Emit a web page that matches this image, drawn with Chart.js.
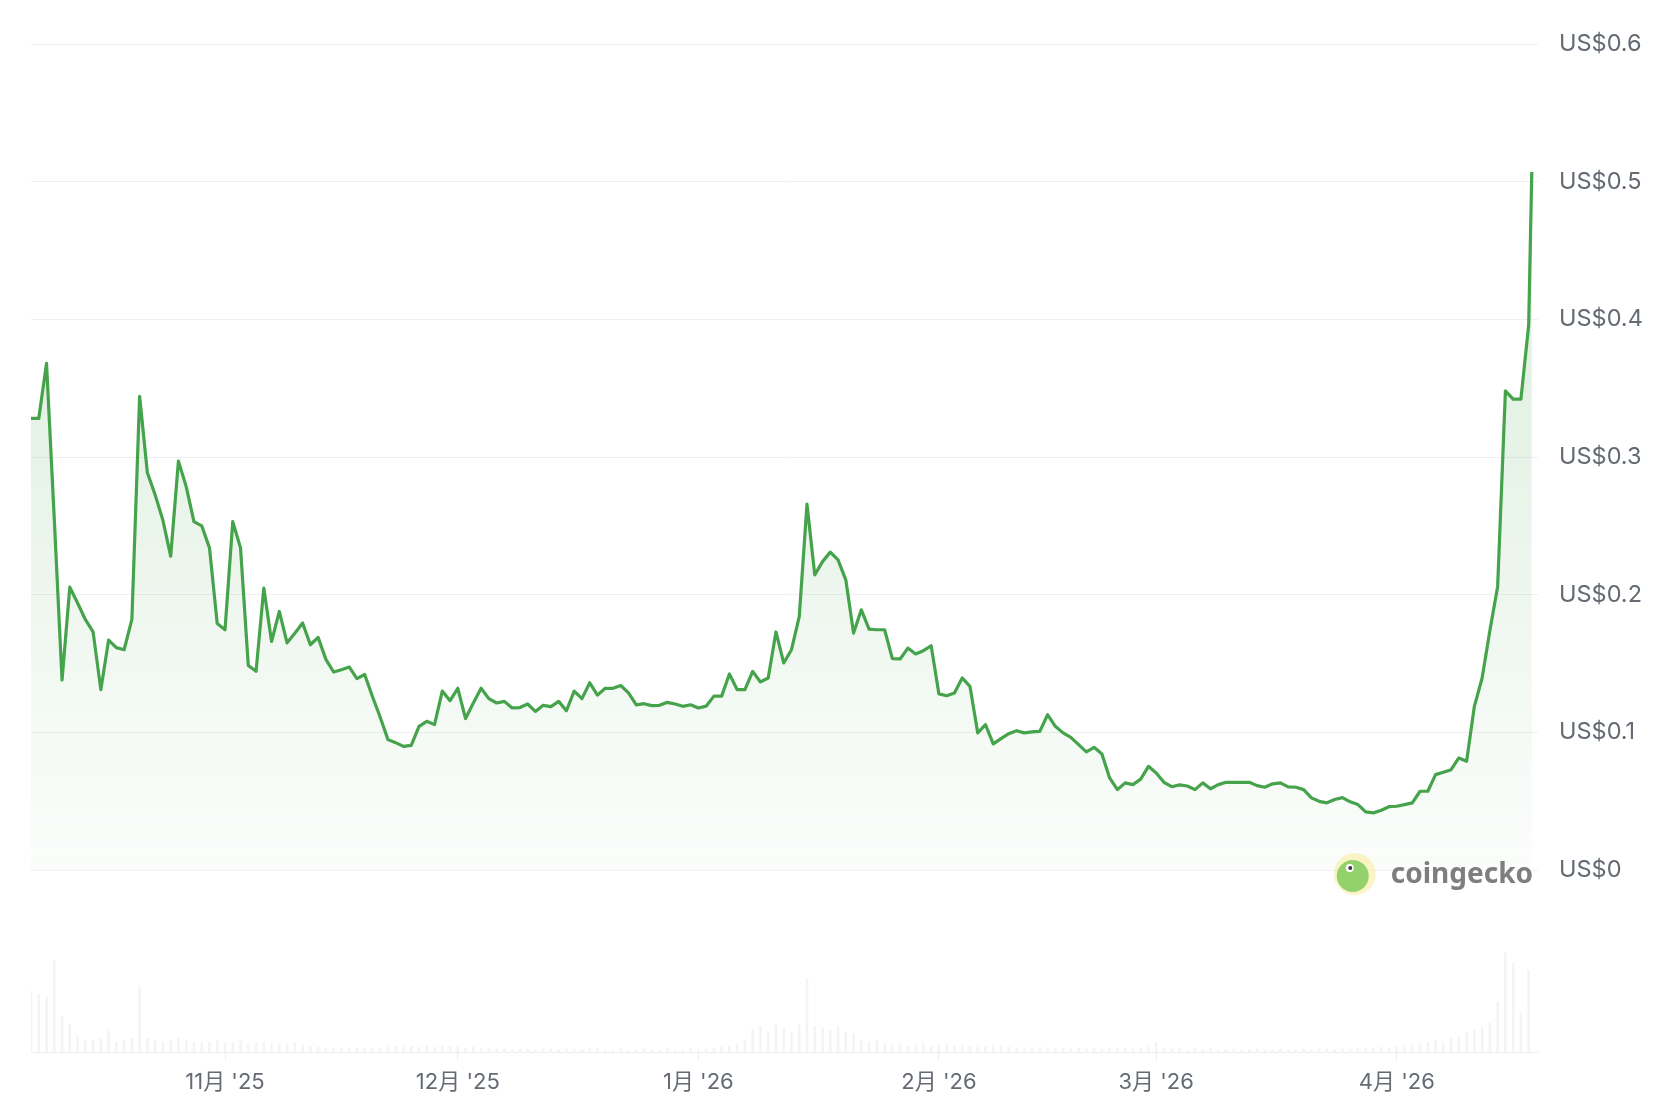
<!DOCTYPE html>
<html>
<head>
<meta charset="utf-8">
<script src="https://cdn.jsdelivr.net/npm/chart.js@4.4.1/dist/chart.umd.min.js"></script>
<style>
  html, body { margin: 0; padding: 0; background: #fff; }
  #wrap { width: 1658px; height: 1102px; }
</style>
</head>
<body>
<div id="wrap"><canvas id="chart" width="1658" height="1102"></canvas></div>
<script>
// daily closes from 7 Oct 2025
const firstDate = '2025-10-07';
const prices = [
  0.328, 0.328, 0.368, 0.255, 0.138, 0.2055, 0.194, 0.182, 0.173, 0.131,
  0.167, 0.1615, 0.160, 0.182, 0.344, 0.2885, 0.2725, 0.254, 0.228, 0.297,
  0.2785, 0.253, 0.250, 0.234, 0.179, 0.1745, 0.253, 0.234, 0.1486, 0.1443,
  0.2048, 0.166, 0.1878, 0.165, 0.172, 0.1794, 0.1636, 0.169, 0.153, 0.1438,
  0.1455, 0.1475, 0.139, 0.142, 0.126, 0.111, 0.0947, 0.0925, 0.0898, 0.0905,
  0.1044, 0.108, 0.1056, 0.130, 0.123, 0.132, 0.110, 0.1213, 0.132, 0.1245,
  0.1213, 0.1225, 0.1177, 0.118, 0.1206, 0.1152, 0.1196, 0.1187, 0.1225, 0.1157,
  0.130, 0.1245, 0.136, 0.127, 0.132, 0.132, 0.134, 0.1286, 0.120, 0.1208,
  0.1194, 0.1196, 0.1218, 0.1206, 0.1189, 0.120, 0.1177, 0.119, 0.1263, 0.1263,
  0.1424, 0.131, 0.131, 0.1443, 0.1366, 0.1395, 0.1729, 0.1504, 0.160, 0.184,
  0.2658, 0.2144, 0.224, 0.2309, 0.2253, 0.2108, 0.1721, 0.189, 0.175, 0.1745,
  0.1745, 0.1535, 0.1533, 0.1612, 0.1569, 0.1593, 0.1629, 0.1279, 0.1266, 0.1286,
  0.1395, 0.1334, 0.0996, 0.1056, 0.0916, 0.0954, 0.099, 0.1012, 0.0996, 0.1003,
  0.1007, 0.1128, 0.1044, 0.0996, 0.0964, 0.0911, 0.0858, 0.0891, 0.0843, 0.0669,
  0.0584, 0.0633, 0.062, 0.066, 0.0753, 0.0705, 0.0637, 0.0605, 0.0618, 0.061,
  0.0584, 0.0633, 0.059, 0.062, 0.0637, 0.0637, 0.0637, 0.0637, 0.0613, 0.0601,
  0.0626, 0.0633, 0.0604, 0.0601, 0.0584, 0.0524, 0.0499, 0.0488, 0.0512, 0.0526,
  0.0495, 0.0475, 0.0422, 0.0415, 0.0434, 0.046, 0.0463, 0.0475, 0.0488, 0.0572,
  0.0572, 0.0693, 0.071, 0.0729, 0.0814, 0.079, 0.1189, 0.1395, 0.174, 0.206,
  0.348, 0.342, 0.342, 0.396
];
const livePrice = 0.507;
const volumes = [
  61, 58, 55, 91, 36, 28, 16, 12, 12, 14,
  21, 10, 12, 14, 65, 14, 12, 10, 12, 14,
  11, 10, 9, 10, 12, 9, 10, 12, 8, 9,
  10, 8, 9, 8, 10, 7, 6, 5, 4, 3,
  3, 3, 4, 3, 3, 4, 5, 6, 5, 6,
  5, 6, 5, 6, 6, 5, 4, 5, 4, 3,
  3, 3, 2, 3, 3, 2, 3, 3, 2, 3,
  3, 2, 3, 3, 2, 2, 3, 2, 2, 3,
  2, 2, 3, 2, 2, 3, 2, 3, 4, 5,
  6, 8, 12, 22, 26, 20, 28, 24, 20, 27,
  73, 26, 24, 22, 25, 20, 18, 12, 10, 11,
  8, 7, 8, 6, 7, 8, 6, 7, 8, 6,
  7, 6, 7, 6, 7, 6, 5, 4, 5, 4,
  5, 4, 3, 4, 3, 4, 3, 4, 3, 4,
  3, 4, 3, 4, 5, 10, 4, 3, 3, 2,
  3, 2, 3, 2, 2, 3, 2, 2, 3, 2,
  2, 3, 2, 2, 3, 2, 3, 3, 2, 3,
  3, 4, 3, 4, 5, 4, 6, 5, 7, 8,
  10, 12, 9, 14, 15, 19, 22, 25, 29, 50,
  99, 89, 39, 82
];
const monthTickDates = ['2025-11-01', '2025-12-01', '2026-01-01', '2026-02-01', '2026-03-01', '2026-04-01'];
const monthTickLabels = ["11月 '25", "12月 '25", "1月 '26", "2月 '26", "3月 '26", "4月 '26"];
const priceTicks = [0, 0.1, 0.2, 0.3, 0.4, 0.5, 0.6];
const priceTickLabels = ['US$0', 'US$0.1', 'US$0.2', 'US$0.3', 'US$0.4', 'US$0.5', 'US$0.6'];

const GREEN = '#45a34b';
const LABEL = '#656b73';
const FONT = "Inter, 'Noto Sans CJK JP', 'Noto Sans', sans-serif";

function dayOf(s) {
    return Date.parse(s + 'T00:00:00Z') / 86400000;
}

const day0 = dayOf(firstDate);
const pricePoints = prices.map((p, i) => ({ x: day0 + i, y: p }));
pricePoints.push({ x: day0 + prices.length - 0.6, y: livePrice });
const volumePoints = volumes.map((v, i) => ({ x: day0 + i, y: v }));
const monthTickDays = monthTickDates.map(dayOf);

const watermark = {
    id: 'watermark',
    afterDatasetsDraw(chart) {
        const c = chart.ctx;
        const right = chart.chartArea.right - 5;
        const y0 = chart.scales.y.getPixelForValue(0);
        c.save();
        c.font = "bold 28px 'Noto Sans', sans-serif";
        c.fillStyle = 'rgba(112,112,112,0.9)';
        c.textAlign = 'right';
        c.textBaseline = 'alphabetic';
        c.fillText('coingecko', right, y0 + 13);
        const tw = c.measureText('coingecko').width;
        const cx = right - tw - 36, cy = y0 + 4;
        c.beginPath();
        c.arc(cx, cy, 21, 0, Math.PI * 2);
        c.fillStyle = 'rgba(246,238,160,0.6)';
        c.fill();
        c.beginPath();
        c.arc(cx - 2, cy + 2, 16, 0, Math.PI * 2);
        c.fillStyle = '#93d16d';
        c.fill();
        c.beginPath();
        c.arc(cx - 5, cy - 6, 4, 0, Math.PI * 2);
        c.fillStyle = '#ffffff';
        c.fill();
        c.beginPath();
        c.arc(cx - 4.5, cy - 6, 2, 0, Math.PI * 2);
        c.fillStyle = '#3a3a3a';
        c.fill();
        c.restore();
    }
};

new Chart(document.getElementById('chart'), {
    data: {
        datasets: [
            {
                type: 'line',
                data: pricePoints,
                yAxisID: 'y',
                borderColor: GREEN,
                borderWidth: 3.2,
                pointRadius: 0,
                tension: 0,
                borderJoinStyle: 'round',
                fill: { target: 'origin' },
                backgroundColor: ctx => {
                    const chart = ctx.chart;
                    if (!chart.chartArea) return 'rgba(69,163,75,0.1)';
                    const top = chart.scales.y.getPixelForValue(0.5);
                    const bottom = chart.scales.y.getPixelForValue(0);
                    const g = chart.ctx.createLinearGradient(0, top, 0, bottom);
                    g.addColorStop(0, 'rgba(69,163,75,0.20)');
                    g.addColorStop(1, 'rgba(69,163,75,0.02)');
                    return g;
                },
                order: 1
            },
            {
                type: 'bar',
                data: volumePoints,
                yAxisID: 'yVol',
                backgroundColor: 'rgba(0,0,0,0.045)',
                barThickness: 2,
                order: 2
            }
        ]
    },
    options: {
        responsive: false,
        animation: false,
        devicePixelRatio: 1,
        layout: { padding: { left: 31, top: 44, right: 0, bottom: 0 } },
        plugins: {
            legend: { display: false },
            tooltip: { enabled: false }
        },
        scales: {
            x: {
                type: 'linear',
                offset: false,
                min: day0,
                max: day0 + 194.2,
                afterBuildTicks: axis => {
                    axis.ticks = monthTickDays.map(v => ({ value: v }));
                },
                afterFit: axis => { axis.height = 50; },
                ticks: {
                    autoSkip: false,
                    maxRotation: 0,
                    padding: 9,
                    color: LABEL,
                    font: { family: FONT, size: 22 },
                    callback: (v, i) => monthTickLabels[i]
                },
                grid: {
                    offset: false,
                    drawOnChartArea: false,
                    drawTicks: true,
                    tickLength: 8,
                    color: '#ececec'
                },
                border: { display: true, color: '#eeeeee' }
            },
            y: {
                position: 'right',
                min: -0.1322,
                max: 0.6,
                afterBuildTicks: axis => {
                    axis.ticks = priceTicks.map(v => ({ value: v }));
                },
                afterFit: axis => { axis.width = 120; },
                ticks: {
                    padding: 21,
                    color: LABEL,
                    font: { family: FONT, size: 23.5 },
                    callback: (v, i) => priceTickLabels[i]
                },
                grid: { color: '#f0f0f0', drawTicks: false },
                border: { display: false }
            },
            yVol: {
                display: false,
                min: 0,
                max: 1008
            }
        }
    },
    plugins: [watermark]
});
</script>
</body>
</html>
